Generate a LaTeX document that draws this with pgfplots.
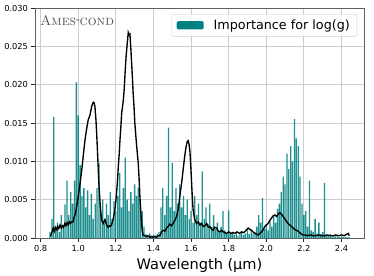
\documentclass[border=0pt]{standalone}
\usepackage{fontspec}
\newfontfamily\dejavu{DejaVu Sans}
\usepackage{pgfplots}
\pgfplotsset{compat=1.18}
\usepackage{pgfplotstable}
\definecolor{barteal}{RGB}{0,128,128}
\definecolor{gridgray}{RGB}{205,205,205}
\definecolor{framegray}{RGB}{95,95,95}

\pgfplotstableread{
x y
0.85 0.0008
0.86 0.0025
0.87 0.0158
0.88 0.0012
0.89 0.0020
0.90 0.0008
0.91 0.0030
0.92 0.0015
0.93 0.0044
0.94 0.0075
0.95 0.0030
0.96 0.0060
0.97 0.0045
0.98 0.0075
0.99 0.0203
1.00 0.0160
1.01 0.0095
1.02 0.0055
1.03 0.0065
1.04 0.0040
1.05 0.0062
1.06 0.0030
1.07 0.0058
1.08 0.0025
1.09 0.0045
1.10 0.0065
1.11 0.0098
1.12 0.0035
1.13 0.0050
1.14 0.0020
1.15 0.0045
1.16 0.0030
1.17 0.0060
1.18 0.0025
1.19 0.0048
1.20 0.0035
1.21 0.0055
1.22 0.0085
1.23 0.0040
1.24 0.0065
1.25 0.0105
1.26 0.0050
1.27 0.0035
1.28 0.0060
1.29 0.0045
1.30 0.0070
1.31 0.0055
1.32 0.0066
1.33 0.0050
1.34 0.0035
1.35 0.0015
1.36 0.0005
1.37 0.0003
1.38 0.0006
1.39 0.0002
1.40 0.0004
1.41 0.0003
1.42 0.0005
1.43 0.0008
1.44 0.0040
1.45 0.0065
1.46 0.0030
1.47 0.0055
1.48 0.0144
1.49 0.0040
1.50 0.0098
1.51 0.0035
1.52 0.0065
1.53 0.0045
1.54 0.0070
1.55 0.0040
1.56 0.0055
1.57 0.0030
1.58 0.0050
1.59 0.0025
1.60 0.0035
1.61 0.0020
1.62 0.0055
1.63 0.0030
1.64 0.0045
1.65 0.0020
1.66 0.0087
1.67 0.0025
1.68 0.0040
1.69 0.0018
1.70 0.0045
1.71 0.0015
1.72 0.0030
1.73 0.0012
1.74 0.0020
1.75 0.0008
1.76 0.0015
1.77 0.0035
1.78 0.0010
1.79 0.0006
1.80 0.0036
1.81 0.0005
1.82 0.0008
1.83 0.0004
1.84 0.0006
1.85 0.0003
1.86 0.0005
1.87 0.0008
1.88 0.0004
1.89 0.0006
1.90 0.0010
1.91 0.0005
1.92 0.0012
1.93 0.0006
1.94 0.0008
1.95 0.0015
1.96 0.0030
1.97 0.0020
1.98 0.0052
1.99 0.0012
2.00 0.0018
2.01 0.0010
2.02 0.0022
2.03 0.0015
2.04 0.0030
2.05 0.0020
2.06 0.0038
2.07 0.0045
2.08 0.0060
2.09 0.0080
2.10 0.0070
2.11 0.0110
2.12 0.0090
2.13 0.0120
2.14 0.0100
2.15 0.0155
2.16 0.0130
2.17 0.0120
2.18 0.0080
2.19 0.0045
2.20 0.0030
2.21 0.0035
2.22 0.0015
2.23 0.0075
2.24 0.0010
2.25 0.0008
2.26 0.0025
2.27 0.0006
2.28 0.0020
2.29 0.0005
2.30 0.0008
2.31 0.0072
2.32 0.0004
2.33 0.0003
2.34 0.0005
2.35 0.0002
2.36 0.0003
2.37 0.0002
2.38 0.0002
2.39 0.0001
2.40 0.0002
2.41 0.0001
2.42 0.0001
2.43 0.0001
2.44 0.0001
}\bars

\pgfplotstableread{
x y
0.852 0.0002
0.858 0.0006
0.867 0.0013
0.873 0.0009
0.878 0.0014
0.885 0.0011
0.890 0.0015
0.896 0.0012
0.903 0.0017
0.910 0.0013
0.917 0.0016
0.922 0.0014
0.929 0.0019
0.935 0.0016
0.941 0.0020
0.947 0.0017
0.953 0.0021
0.958 0.0019
0.965 0.0021
0.972 0.0021
0.978 0.0027
0.985 0.0032
0.992 0.0042
1.000 0.0054
1.009 0.0070
1.018 0.0087
1.027 0.0108
1.036 0.0128
1.045 0.0143
1.053 0.0154
1.062 0.0160
1.071 0.0171
1.076 0.0175
1.080 0.0177
1.085 0.0176
1.089 0.0171
1.094 0.0155
1.098 0.0137
1.102 0.0115
1.106 0.0093
1.110 0.0070
1.115 0.0050
1.120 0.0033
1.124 0.0024
1.129 0.0021
1.133 0.0019
1.138 0.0022
1.142 0.0024
1.147 0.0020
1.151 0.0017
1.155 0.0015
1.159 0.0014
1.165 0.0016
1.171 0.0015
1.177 0.0017
1.186 0.0025
1.195 0.0037
1.200 0.0048
1.204 0.0059
1.209 0.0075
1.213 0.0093
1.218 0.0110
1.222 0.0128
1.227 0.0146
1.231 0.0163
1.236 0.0172
1.240 0.0180
1.245 0.0196
1.250 0.0219
1.255 0.0238
1.260 0.0252
1.266 0.0268
1.270 0.0265
1.275 0.0266
1.280 0.0246
1.284 0.0228
1.288 0.0210
1.292 0.0189
1.297 0.0170
1.301 0.0150
1.310 0.0122
1.319 0.0098
1.324 0.0076
1.328 0.0054
1.333 0.0034
1.337 0.0019
1.341 0.0009
1.345 0.0004
1.352 0.0003
1.363 0.0002
1.372 0.0003
1.381 0.0001
1.390 0.0002
1.398 0.0001
1.407 0.0002
1.416 0.0001
1.425 0.0003
1.434 0.0003
1.443 0.0008
1.452 0.0010
1.461 0.0009
1.470 0.0013
1.478 0.0015
1.487 0.0018
1.496 0.0016
1.505 0.0019
1.514 0.0023
1.523 0.0028
1.532 0.0038
1.540 0.0054
1.549 0.0070
1.558 0.0089
1.565 0.0104
1.571 0.0115
1.576 0.0122
1.580 0.0126
1.585 0.0127
1.590 0.0121
1.594 0.0113
1.599 0.0092
1.603 0.0072
1.607 0.0052
1.611 0.0037
1.616 0.0029
1.620 0.0024
1.629 0.0019
1.638 0.0021
1.647 0.0017
1.656 0.0019
1.664 0.0015
1.674 0.0016
1.683 0.0019
1.692 0.0014
1.700 0.0015
1.708 0.0012
1.717 0.0010
1.726 0.0014
1.736 0.0013
1.745 0.0009
1.753 0.0008
1.762 0.0010
1.771 0.0008
1.780 0.0007
1.789 0.0006
1.800 0.0008
1.812 0.0006
1.823 0.0007
1.833 0.0006
1.845 0.0008
1.857 0.0006
1.869 0.0008
1.880 0.0007
1.893 0.0010
1.904 0.0013
1.913 0.0011
1.922 0.0010
1.930 0.0008
1.939 0.0006
1.948 0.0005
1.957 0.0004
1.966 0.0006
1.975 0.0008
1.984 0.0011
1.992 0.0015
2.001 0.0017
2.010 0.0019
2.019 0.0023
2.028 0.0026
2.037 0.0029
2.046 0.0030
2.055 0.0028
2.063 0.0031
2.072 0.0033
2.081 0.0031
2.090 0.0028
2.099 0.0025
2.107 0.0022
2.116 0.0019
2.125 0.0017
2.134 0.0015
2.143 0.0013
2.152 0.0011
2.161 0.0010
2.169 0.0009
2.178 0.0007
2.187 0.0005
2.196 0.0004
2.205 0.0004
2.220 0.0003
2.235 0.0004
2.250 0.0003
2.265 0.0003
2.280 0.0004
2.295 0.0003
2.310 0.0003
2.325 0.0004
2.340 0.0003
2.355 0.0003
2.370 0.0004
2.385 0.0003
2.400 0.0004
2.415 0.0003
2.428 0.0005
2.436 0.0006
2.442 0.0003
}\curve

\begin{document}
\begin{tikzpicture}
\begin{axis}[name=ax,
  scale only axis, width=329bp, height=230bp,
  xmin=0.77, xmax=2.52, ymin=0, ymax=0.030,
  xtick={0.8,1,1.2,1.4,1.6,1.8,2,2.2,2.4},
  ytick={0,0.005,0.01,0.015,0.02,0.025,0.03},
  scaled y ticks=false, scaled x ticks=false,
  xticklabel style={/pgf/number format/.cd, fixed, fixed zerofill, precision=1},
  yticklabel style={/pgf/number format/.cd, fixed, fixed zerofill, precision=3},
  /pgf/number format/assume math mode=true,
  ticklabel style={font=\dejavu\fontsize{8.3}{10}\selectfont},
  tick align=outside, major tick length=3.5bp,
  tick style={black!85, line width=0.8bp},
  xtick pos=lower, ytick pos=left,
  grid=major, grid style={gridgray, line width=0.8bp},
  axis line style={framegray, line width=0.8bp},
  xlabel={Wavelength (µm)},
  xlabel style={font=\dejavu\fontsize{14.6}{16}\selectfont},
  legend style={at={(0.979,0.974)}, anchor=north east,
    draw=black!20, rounded corners=2bp, fill=white, fill opacity=0.85, text opacity=1,
    font=\dejavu\fontsize{12.8}{15}\selectfont, inner xsep=5bp, inner ysep=3.5bp,
    /tikz/every odd column/.append style={column sep=8bp}},
  legend image code/.code={\fill[barteal, fill opacity=1] (0bp,-4.2bp) rectangle (27bp,4.2bp);},
  legend cell align=left,
]
\addplot[ybar, bar width=0.007, fill=barteal, draw=none, fill opacity=0.88] table[x=x,y=y]{\bars};
\addlegendentry{Importance for log(g)}
\addplot[black, line width=1.35bp, forget plot] table[x=x,y=y]{\curve};
\node[anchor=north west, inner sep=0pt, text=black!68, font=\fontsize{14}{16}\selectfont] at (rel axis cs:0.015,0.97) {\textsc{Ames}\kern-0.5bp\raisebox{1.6bp}{-}\kern-0.5bp\textsc{cond}};
\end{axis}
\pgfresetboundingbox
\path (ax.south west) ++(-35bp,-38bp) rectangle ++(374bp,276bp);
\end{tikzpicture}
\end{document}
